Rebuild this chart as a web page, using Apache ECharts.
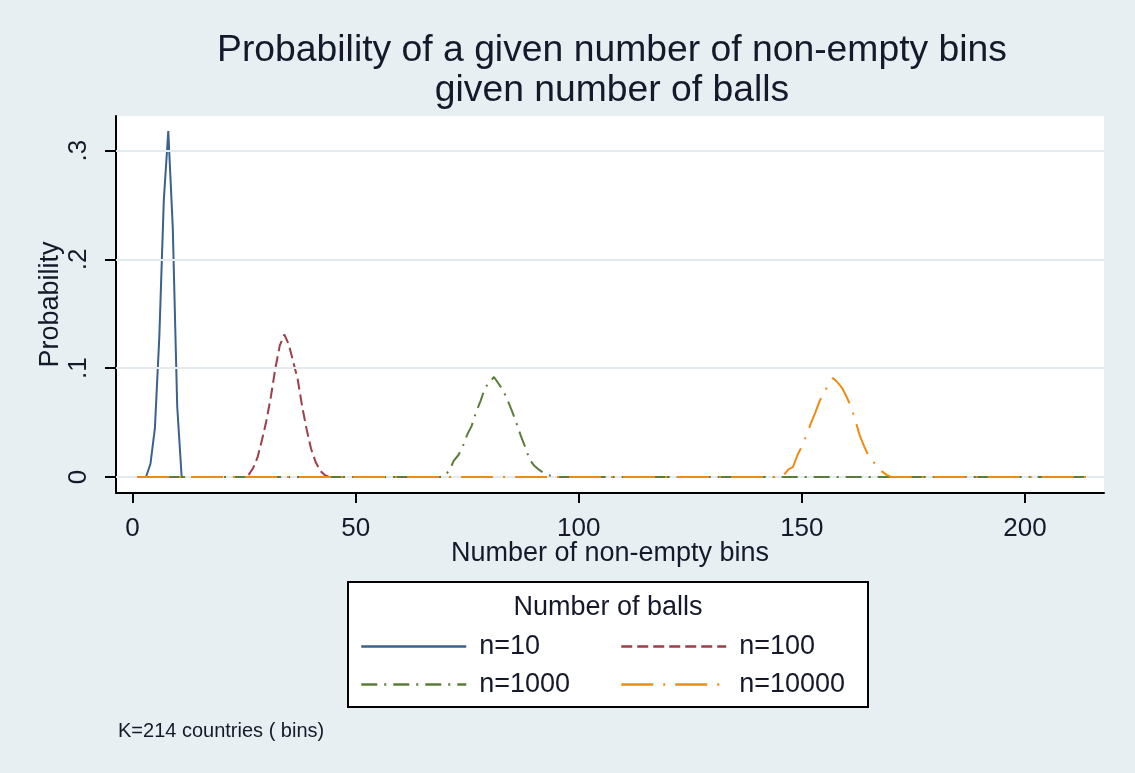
<!DOCTYPE html>
<html>
<head>
<meta charset="utf-8">
<script src="https://cdn.jsdelivr.net/npm/echarts@6/dist/echarts.min.js"></script>
<style>
  html, body { margin: 0; padding: 0; background: #e8eff2; }
  #chart { width: 1135px; height: 773px; }
</style>
</head>
<body>
<div id="chart"></div>
<script>
// Number of bins (countries) on the x axis
const binCount = 214;

// Axis tick values
const xTicks = [0, 50, 100, 150, 200];
const yTicks = [0, 0.1, 0.2, 0.3];

// Series names as shown in the legend
const seriesNames = ['n=10', 'n=100', 'n=1000', 'n=10000'];

// Probability per number of non-empty bins; each curve is zero outside
// the bins listed here (first bin given by the *Start value).
const p10Start = 4;
const p10 = [0.012, 0.045, 0.13, 0.255, 0.318, 0.23, 0.065];

const p100Start = 26;
const p100 = [0.002, 0.008, 0.018, 0.034, 0.052, 0.074, 0.1, 0.121, 0.131,
              0.122, 0.106, 0.09, 0.065, 0.044, 0.026, 0.014, 0.006, 0.002];

const p1000Start = 70;
const p1000 = [0.0015, 0.006, 0.015, 0.02, 0.028, 0.039, 0.047, 0.06, 0.07,
               0.082, 0.087, 0.092, 0.086, 0.08, 0.071, 0.061, 0.05, 0.038,
               0.0275, 0.016, 0.0105, 0.007, 0.004, 0.002, 0.001];

const p10000Start = 146;
const p10000 = [0.002, 0.007, 0.009, 0.02, 0.028, 0.038, 0.049, 0.059, 0.07,
                0.078, 0.085, 0.091, 0.087, 0.082, 0.074, 0.065, 0.052, 0.038,
                0.028, 0.019, 0.014, 0.01, 0.005, 0.002];

// Expand a curve to [bin, probability] pairs over bins 1..binCount
function curve(start, values) {
  const out = [];
  for (let b = 1; b <= binCount; b++) {
    const i = b - start;
    out.push([b, i >= 0 && i < values.length ? values[i] : 0]);
  }
  return out;
}

const FONT = "'Liberation Sans', Arial, Helvetica, sans-serif";
const TEXT = '#15192a';

const colors = ['#3b618d', '#9e3f48', '#5b7d3a', '#ee8c12'];
const dashes = ['solid', [11, 5], [16, 7, 2, 7], [32, 10, 2, 10]];
const curves = [
  curve(p10Start, p10),
  curve(p100Start, p100),
  curve(p1000Start, p1000),
  curve(p10000Start, p10000)
];

const lineSeries = seriesNames.map((name, k) => ({
  name: name,
  type: 'line',
  data: curves[k],
  symbol: 'none',
  z: 3 + k,
  lineStyle: { color: colors[k], width: 2, type: dashes[k], cap: 'butt' },
  itemStyle: { color: colors[k] }
}));

// Horizontal grid lines at the y ticks
const gridSeries = {
  name: 'grid',
  type: 'line',
  data: [],
  z: 1,
  silent: true,
  markLine: {
    silent: true,
    symbol: ['none', 'none'],
    label: { show: false },
    lineStyle: { color: '#e3ebee', width: 2, type: 'solid' },
    data: yTicks.map(v => ({ yAxis: v }))
  }
};

// One legend per entry, laid out in two columns inside the legend box
const legendPos = [[360, 633], [620, 633], [360, 671], [620, 671]];
const legends = seriesNames.map((name, k) => ({
  data: [name],
  left: legendPos[k][0],
  top: legendPos[k][1],
  orient: 'horizontal',
  padding: 0,
  itemWidth: 105,
  itemHeight: 27,
  selectedMode: false,
  itemStyle: { color: 'rgba(0,0,0,0)', borderWidth: 0, opacity: 0 },
  lineStyle: { width: 2.5 },
  textStyle: { fontSize: 27, fontFamily: FONT, color: TEXT, padding: [0, 0, 0, 8] }
}));

const chart = echarts.init(document.getElementById('chart'), null, { renderer: 'canvas' });
chart.setOption({
  animation: false,
  backgroundColor: '#e8eff2',
  title: {
    text: 'Probability of a given number of non-empty bins\ngiven number of balls',
    left: 607,
    top: 26,
    textAlign: 'center',
    textStyle: { fontSize: 37.3, lineHeight: 40, fontWeight: 'normal', fontFamily: FONT, color: TEXT }
  },
  grid: {
    left: 116, right: 31, top: 116, bottom: 280,
    show: true, backgroundColor: '#ffffff', borderWidth: 0
  },
  xAxis: {
    type: 'value',
    min: -3.72,
    max: 217.73,
    name: 'Number of non-empty bins',
    nameLocation: 'middle',
    nameGap: 47,
    nameMoveOverlap: false,
    nameTextStyle: { fontSize: 27, fontFamily: FONT, color: TEXT },
    axisLine: { show: true, onZero: false, lineStyle: { color: '#000', width: 2 } },
    axisTick: { show: true, customValues: xTicks, length: 10, lineStyle: { color: '#000', width: 2 } },
    axisLabel: { customValues: xTicks, margin: 23, fontSize: 26, fontFamily: FONT, color: TEXT },
    splitLine: { show: false }
  },
  yAxis: {
    type: 'value',
    min: -0.0147,
    max: 0.3319,
    name: 'Probability',
    nameLocation: 'middle',
    nameGap: 52,
    nameMoveOverlap: false,
    nameTextStyle: { fontSize: 27, fontFamily: FONT, color: TEXT },
    axisLine: { show: true, onZero: false, lineStyle: { color: '#000', width: 2 } },
    axisTick: { show: true, customValues: yTicks, length: 11, lineStyle: { color: '#000', width: 2 } },
    axisLabel: {
      customValues: yTicks,
      rotate: 90,
      margin: 24,
      fontSize: 26,
      fontFamily: FONT,
      color: TEXT,
      formatter: v => (v === 0 ? '0' : String(v).replace(/^0/, ''))
    },
    splitLine: { show: false }
  },
  legend: legends,
  graphic: [
    {
      type: 'rect',
      z: 0,
      shape: { x: 348, y: 582, width: 520, height: 125 },
      style: { fill: '#ffffff', stroke: '#000000', lineWidth: 2 }
    },
    {
      type: 'text',
      z: 1,
      style: {
        text: 'Number of balls', x: 608, y: 608,
        align: 'center', verticalAlign: 'middle',
        fontSize: 27, fontFamily: FONT, fill: TEXT
      }
    },
    {
      type: 'text',
      z: 1,
      style: {
        text: 'K=214 countries ( bins)', x: 118, y: 731,
        align: 'left', verticalAlign: 'middle',
        fontSize: 20, fontFamily: FONT, fill: TEXT
      }
    }
  ],
  series: [gridSeries].concat(lineSeries)
});
</script>
</body>
</html>
